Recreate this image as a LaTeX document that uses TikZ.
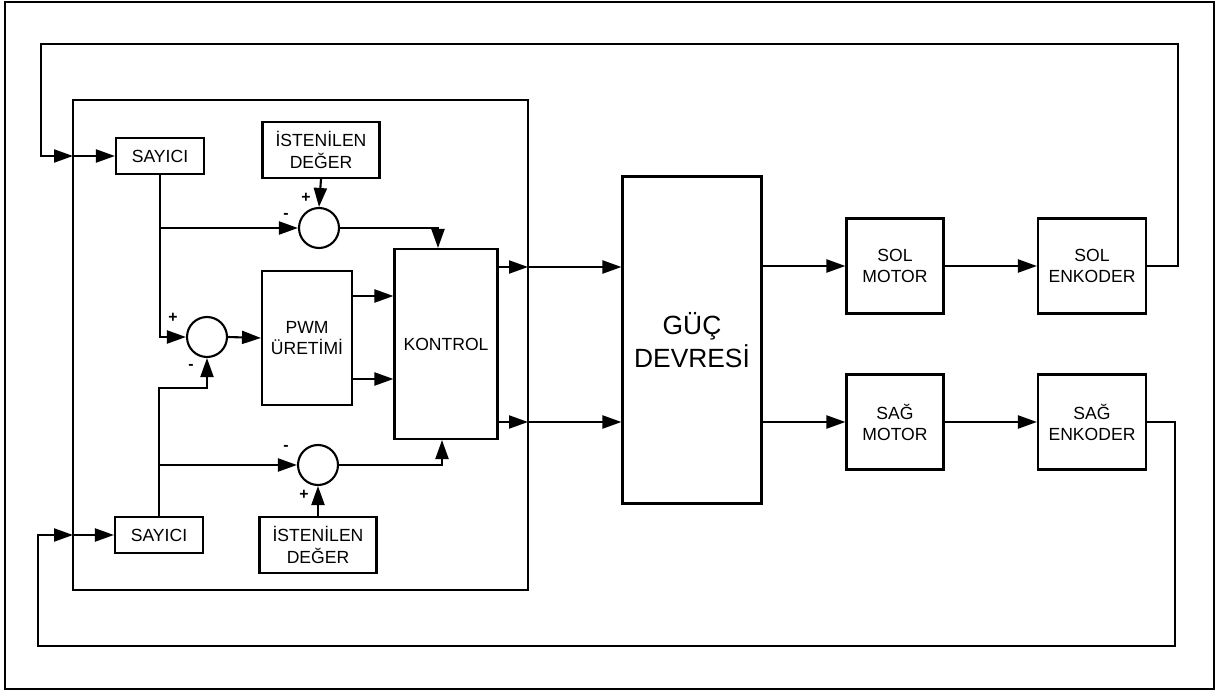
\documentclass[tikz,border=0pt]{standalone}
\usepackage{fontspec}
\setmainfont{Liberation Sans}
\usetikzlibrary{arrows.meta,calc}

\begin{document}
\begin{tikzpicture}[x=0.02cm, y=-0.02cm, line width=1.2pt,
  blk/.style={draw, align=center, inner sep=1pt, font=\fontsize{10}{12}\selectfont},
  sumc/.style={draw, circle, minimum size=0.8cm, inner sep=0pt},
  sgn/.style={font=\fontsize{9}{9}\selectfont\bfseries, inner sep=0pt},
  arr/.style={-{Triangle[length=3.8mm,width=2.6mm]}}]
\useasboundingbox (0,0) rectangle (1219,695);
\draw[line width=0.9pt] (5,2) rectangle (1214,689);
\draw (73,100) rectangle (528,590);

\node[blk, minimum width=1.76cm, minimum height=0.72cm] (say1) at (160,156) {SAYICI};
\node[blk, minimum width=1.76cm, minimum height=0.72cm] (say2) at (159,535) {SAYICI};
\node[blk, minimum width=2.34cm, minimum height=1.12cm] (ist1) at (321,150) {İSTENİLEN\\DEĞER};
\node[blk, minimum width=2.34cm, minimum height=1.12cm] (ist2) at (318,545) {İSTENİLEN\\DEĞER};
\node[sumc] (sum1) at (319,228) {};
\node[sumc] (sum2) at (207,337) {};
\node[sumc] (sum3) at (318,465) {};
\node[blk, minimum width=1.8cm, minimum height=2.68cm] (pwm) at (307,338) {PWM\\ÜRETİMİ};
\node[blk, minimum width=2.06cm, minimum height=3.8cm] (kontrol) at (446,344) {KONTROL};
\node[blk, minimum width=2.78cm, minimum height=6.54cm, font=\fontsize{15}{19}\selectfont] (guc) at (692,340) {GÜÇ\\DEVRESİ};
\node[blk, minimum width=1.94cm, minimum height=1.9cm] (solmot) at (895,266) {SOL\\MOTOR};
\node[blk, minimum width=2.16cm, minimum height=1.9cm] (solenc) at (1092,266) {SOL\\ENKODER};
\node[blk, minimum width=1.94cm, minimum height=1.9cm] (sagmot) at (895,422) {SAĞ\\MOTOR};
\node[blk, minimum width=2.16cm, minimum height=1.9cm] (sagenc) at (1092,422) {SAĞ\\ENKODER};

% signs
\node[sgn] (p1) at (306,198) {+};
\node[sgn] (m1) at (286,216) {-};
\node[sgn] (p2) at (173,318) {+};
\node[sgn] (m2) at (191,367) {-};
\node[sgn] (m3) at (286,448) {-};
\node[sgn] (p3) at (304,495) {+};

\coordinate (fbA) at (1178,44);
\coordinate (fbB) at (41,156);
\coordinate (inA) at (73,156);
\coordinate (fbC) at (1175,646);
\coordinate (fbD) at (38,535);
\coordinate (inB) at (73,535);
\coordinate (jn) at (207,388);
\coordinate (oA) at (528,267);
\coordinate (oB) at (528,422);

% feedback
\draw[arr] (solenc.east) -| (fbA) -| (fbB) -- (inA);
\draw[arr] (inA) -- (say1.west);
\draw[arr] (sagenc.east) -| (fbC) -| (fbD) -- (inB);
\draw[arr] (inB) -- (say2.west);

% error sums
\draw[arr] (ist1.south) -- (sum1.north);
\draw[arr] (ist2.north) -- (sum3.south);
\draw[arr] (say1.south) |- (sum1.west);
\draw[arr] (say1.south) |- (sum2.west);
\draw[arr] (say2.north) |- (sum3.west);
\draw[arr] (say2.north) |- (jn) -- (sum2.south);
\draw[arr] (sum2.east) -- (pwm.west);
\draw[arr] (sum1.east) -| ($(kontrol.north)+(-8,0)$);
\draw[arr] (sum3.east) -| ($(kontrol.south)+(-4,0)$);
\draw[arr] (pwm.east |- 0,296) -- (kontrol.west |- 0,296);
\draw[arr] (pwm.east |- 0,379) -- (kontrol.west |- 0,379);

% outputs
\draw[arr] (kontrol.east |- oA) -- (oA);
\draw[arr] (oA) -- (guc.west |- oA);
\draw[arr] (kontrol.east |- oB) -- (oB);
\draw[arr] (oB) -- (guc.west |- oB);
\draw[arr] (guc.east |- solmot) -- (solmot.west);
\draw[arr] (solmot.east) -- (solenc.west);
\draw[arr] (guc.east |- sagmot) -- (sagmot.west);
\draw[arr] (sagmot.east) -- (sagenc.west);
\end{tikzpicture}
\end{document}
